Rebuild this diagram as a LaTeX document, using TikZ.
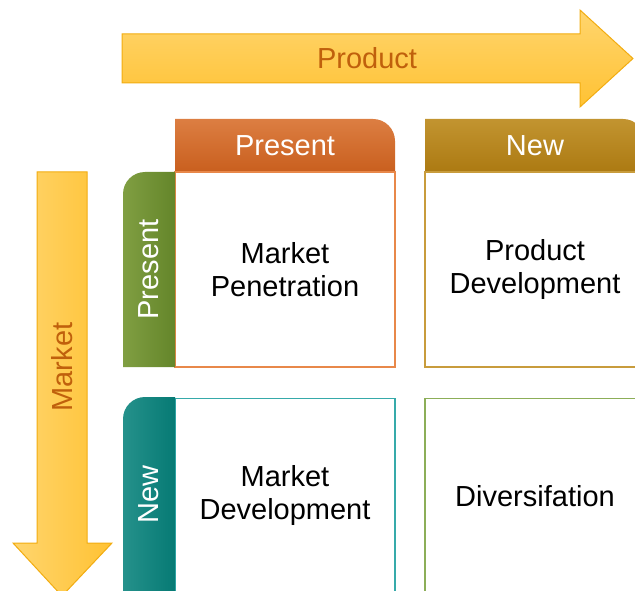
\documentclass[tikz,border=0pt]{standalone}
\usepackage{fontspec}
\setmainfont{Liberation Sans}
\usepackage{tikz}
\usetikzlibrary{shapes,arrows.meta}
\definecolor{arrowlight}{HTML}{FFD56E}
\definecolor{arrowdark}{HTML}{FFC233}
\definecolor{arrowline}{HTML}{F2AC10}
\definecolor{arrowtext}{HTML}{C0600C}
\definecolor{presentlight}{HTML}{DC7E42}
\definecolor{presentdark}{HTML}{C95F1E}
\definecolor{newlight}{HTML}{C29430}
\definecolor{newdark}{HTML}{AC7A12}
\definecolor{sidepresentlight}{HTML}{809F42}
\definecolor{sidepresentdark}{HTML}{64852A}
\definecolor{sidenewlight}{HTML}{25918B}
\definecolor{sidenewdark}{HTML}{067A74}
\definecolor{cellorange}{HTML}{E8884A}
\definecolor{cellgold}{HTML}{C89C3C}
\definecolor{cellteal}{HTML}{36AAAA}
\definecolor{cellolive}{HTML}{8CAE58}
\newcommand{\bcgbig}{\fontsize{29}{33}\selectfont}
\newcommand{\bcgtop}[6] {\shade [top color=#4, bottom color=#5] (#1,418) -- (#1,471) -- (#2-22,471) arc (90:0:22) -- (#2,418) -- cycle; \node at ({(#1+#2)/2},444.5) (#3) [text=white, font=\bcgbig] {#6};}
\newcommand{\bcgside}[6] {\shade [left color=#4, right color=#5] (175,#2) -- (123,#2) -- (123,#1-22) arc (180:90:22) -- (175,#1) -- cycle; \node at (149,{(#1+#2)/2}) (#3) [rotate=90, text=white, font=\bcgbig] {#6};}
\newcommand{\bcgcell}[4] {\node at (#1) (#2) [rectangle, draw=#3, line width=1.3pt, minimum width=220pt, minimum height=195pt, align=center, font=\bcgbig] {#4};}

\begin{document}
\begin{tikzpicture}[x=1pt, y=1pt]

\useasboundingbox (0,0) rectangle (635,590);
\clip (0,0) rectangle (635,590);

\shadedraw [top color=arrowlight, bottom color=arrowdark, draw=arrowline, line width=1pt] (122,507) -- (122,556) -- (580,556) -- (580,580) -- (633,531.5) -- (580,483) -- (580,507) -- cycle;
\node at (367,531.5) (product) [text=arrowtext, font=\bcgbig] {Product};

\shadedraw [left color=arrowlight, right color=arrowdark, draw=arrowline, line width=1pt] (37,418) -- (87,418) -- (87,47) -- (112,47) -- (62,-6) -- (13,47) -- (37,47) -- cycle;
\node at (62,223) (market) [rotate=90, text=arrowtext, font=\bcgbig] {Market};

\bcgtop {175}{395}{toppresent}{presentlight}{presentdark}{Present};
\bcgtop {425}{645}{topnew}{newlight}{newdark}{New};

\bcgcell {285,320.5}{penetration}{cellorange}{Market\\Penetration};
\bcgcell {535,320.5}{productdev}{cellgold}{Product\\Development};
\bcgcell {285,94}{marketdev}{cellteal}{Market\\Development};
\bcgcell {535,94}{diversification}{cellolive}{Diversifation};

\bcgside {418}{223}{sidepresent}{sidepresentlight}{sidepresentdark}{Present};
\bcgside {193}{-2}{sidenew}{sidenewlight}{sidenewdark}{New};

\end{tikzpicture}
\end{document}
